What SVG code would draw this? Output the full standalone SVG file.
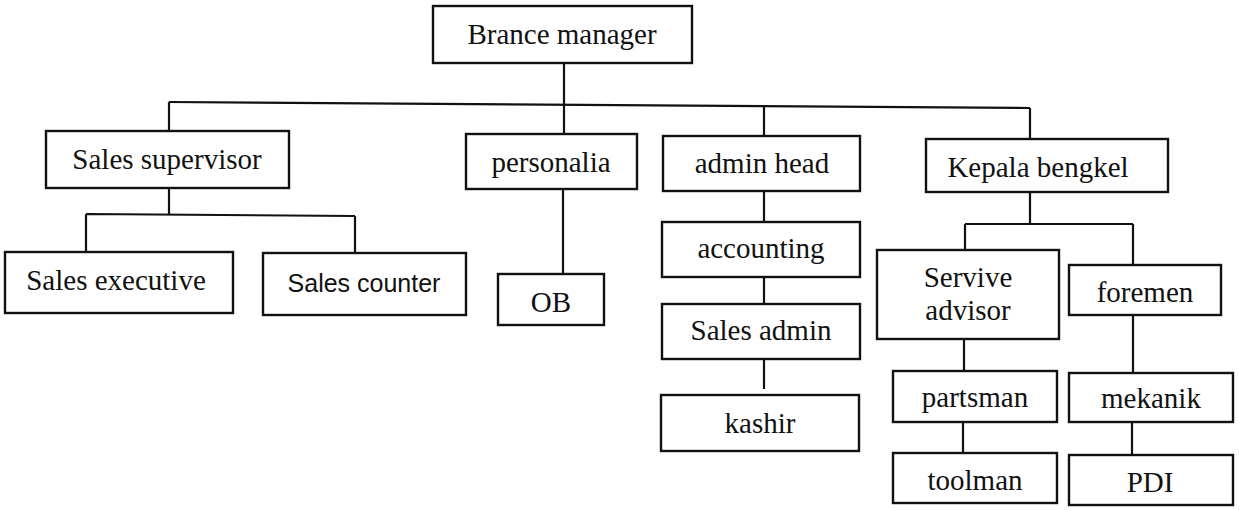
<svg xmlns="http://www.w3.org/2000/svg" width="1239" height="510" viewBox="0 0 1239 510">
<style>
.box{fill:#fff;stroke:#111;stroke-width:2.4}
.t{font-family:"Liberation Serif","Times New Roman",serif;font-size:29px;fill:#111;text-anchor:middle}
.s{font-family:"Liberation Sans",Arial,sans-serif;font-size:25px;fill:#111;text-anchor:middle}
.c{fill:none;stroke:#111;stroke-width:2.2}
</style>
<rect width="1239" height="510" fill="#fff"/>
<g id="connectors">
<path class="c" d="M169,102 L1030,108"/>
<path class="c" d="M564,63 V134"/>
<path class="c" d="M169,102 V131"/>
<path class="c" d="M764,106 V136"/>
<path class="c" d="M1030,108 V139"/>
<path class="c" d="M169,188 V215 M86,214 L355,216 M86,214 V252 M355,216 V253"/>
<path class="c" d="M563,189 V274"/>
<path class="c" d="M764,191 V222 M764,277 V304 M764,359 V389"/>
<path class="c" d="M1030,192 V224 M965,224 H1133 M965,224 V250 M1133,224 V265"/>
<path class="c" d="M964,339 V371 M963,422 V453"/>
<path class="c" d="M1133,315 V373 M1132,422 V455"/>
</g>
<g id="n-brance"><rect class="box" x="433" y="6" width="259" height="57"/><text class="t" x="562" y="44">Brance manager</text></g>
<g id="n-salessup"><rect class="box" x="46" y="131" width="243" height="57"/><text class="t" x="167" y="169">Sales supervisor</text></g>
<g id="n-personalia"><rect class="box" x="466" y="134" width="171" height="55"/><text class="t" x="551" y="172">personalia</text></g>
<g id="n-adminhead"><rect class="box" x="663" y="136" width="197" height="55"/><text class="t" x="762" y="173">admin head</text></g>
<g id="n-kepala"><rect class="box" x="926" y="139" width="242" height="53"/><text class="t" x="1038" y="177">Kepala bengkel</text></g>
<g id="n-salesexec"><rect class="box" x="5" y="252" width="228" height="61"/><text class="t" x="116" y="290">Sales executive</text></g>
<g id="n-salescounter"><rect class="box" x="263" y="253" width="203" height="62"/><text class="s" x="364" y="292">Sales counter</text></g>
<g id="n-ob"><rect class="box" x="498" y="274" width="106" height="51"/><text class="t" x="551" y="312">OB</text></g>
<g id="n-accounting"><rect class="box" x="662" y="222" width="198" height="55"/><text class="t" x="761" y="258">accounting</text></g>
<g id="n-salesadmin"><rect class="box" x="662" y="304" width="198" height="55"/><text class="t" x="761" y="340">Sales admin</text></g>
<g id="n-kashir"><rect class="box" x="661" y="395" width="198" height="56"/><text class="t" x="760" y="433">kashir</text></g>
<g id="n-servive"><rect class="box" x="877" y="250" width="182" height="89"/><text class="t" x="968" y="287">Servive</text><text class="t" x="968" y="320">advisor</text></g>
<g id="n-foremen"><rect class="box" x="1069" y="265" width="152" height="50"/><text class="t" x="1145" y="302">foremen</text></g>
<g id="n-partsman"><rect class="box" x="893" y="371" width="164" height="51"/><text class="t" x="975" y="407">partsman</text></g>
<g id="n-mekanik"><rect class="box" x="1069" y="373" width="164" height="49"/><text class="t" x="1151" y="408">mekanik</text></g>
<g id="n-toolman"><rect class="box" x="893" y="453" width="164" height="50"/><text class="t" x="975" y="490">toolman</text></g>
<g id="n-pdi"><rect class="box" x="1069" y="455" width="164" height="50"/><text class="t" x="1150" y="492">PDI</text></g>
</svg>
